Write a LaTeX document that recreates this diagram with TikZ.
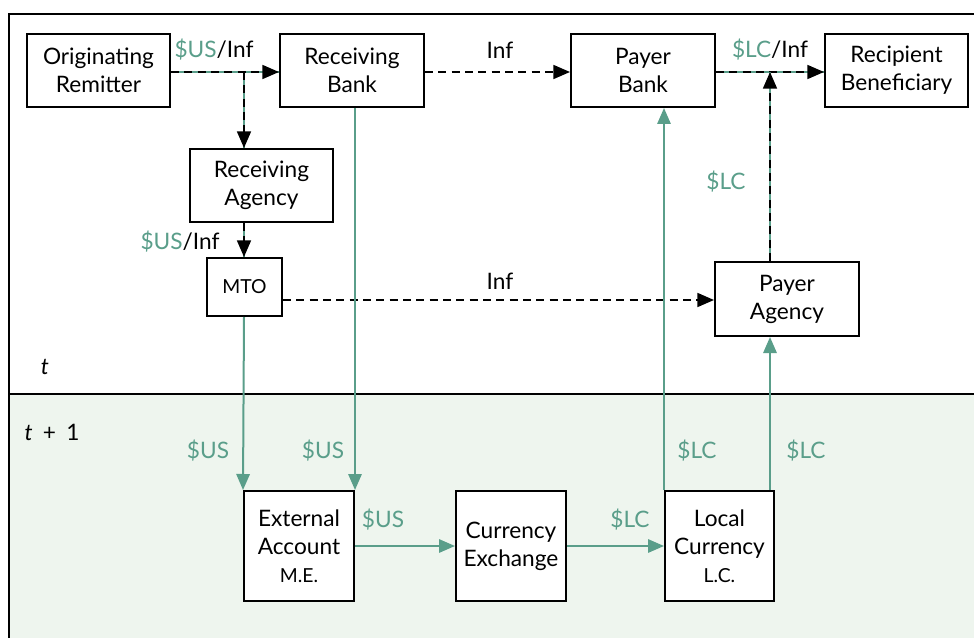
\documentclass[tikz,border=0pt]{standalone}
\usepackage{fontspec}
\setmainfont{Lato}
\usetikzlibrary{arrows.meta}
\definecolor{flow}{HTML}{5A9E8A}
\definecolor{bgnext}{HTML}{EEF5EE}
\begin{document}
\begin{tikzpicture}[x=0.75pt,y=-0.75pt,
  font=\fontsize{17}{21}\selectfont,
  box/.style={draw=black,line width=1.5pt,fill=white,align=center,inner sep=0pt},
  lbl/.style={inner sep=0pt,text=flow},
  tipb/.style={-{Triangle[length=12.5pt,width=10.5pt]}},
  tipg/.style={-{Triangle[length=12pt,width=10pt,color=flow]}},
  money/.style={draw=flow,line width=1.5pt},
  info/.style={draw=black,line width=1.3pt,dash pattern=on 6pt off 4pt},
]
\useasboundingbox (0,0) rectangle (974,638);
% background
\fill[bgnext] (9,394) rectangle (974,638);
\draw[line width=1.5pt] (974,14) -- (9,14) -- (9,638);
\draw[line width=1.5pt] (9,394) -- (974,394);
\node[anchor=center,font=\fontsize{17}{21}\selectfont\itshape] (tlab) at (45,367) {t};
\node[anchor=west] (tlab2) at (20,432) {\textit{t}\hspace{0.45em}+\hspace{0.45em}1};

% boxes
\node[box,minimum width=143*0.75pt,minimum height=73*0.75pt] (OR) at (98.5,70.5) {Originating\\Remitter};
\node[box,minimum width=144*0.75pt,minimum height=73*0.75pt] (RB) at (352,70.5) {Receiving\\Bank};
\node[box,minimum width=144*0.75pt,minimum height=73*0.75pt] (PB) at (643,70.5) {Payer\\Bank};
\node[box,minimum width=143*0.75pt,minimum height=73*0.75pt] (RBen) at (896.5,70.5) {Recipient\\Beneficiary};
\node[box,minimum width=143*0.75pt,minimum height=73*0.75pt] (RA) at (261.5,185.5) {Receiving\\Agency};
\node[box,minimum width=75*0.75pt,minimum height=58*0.75pt,font=\fontsize{14.5}{18}\selectfont] (MTO) at (244.5,287) {MTO};
\node[box,minimum width=144*0.75pt,minimum height=74*0.75pt] (PA) at (787,299) {Payer\\Agency};
\node[box,minimum width=110*0.75pt,minimum height=110*0.75pt] (EA) at (299,546) {External\\Account\\{\fontsize{14.5}{18}\selectfont M.E.}};
\node[box,minimum width=110*0.75pt,minimum height=110*0.75pt] (CE) at (511,546) {Currency\\Exchange};
\node[box,minimum width=109*0.75pt,minimum height=110*0.75pt] (LC) at (719.5,546) {Local\\Currency\\{\fontsize{14.5}{18}\selectfont L.C.}};

% helper coordinates
\coordinate (split) at (244,72);
\coordinate (join) at (770,72);

% OR -> RB (money + info)
\draw[money] (OR.east |- split) -- (RB.west |- split);
\draw[info,tipb] (OR.east |- split) -- (RB.west |- split);
% branch down to RA
\draw[money] (split) -- (split |- RA.north);
\draw[info,tipb] (split) -- (split |- RA.north);
% RA -> MTO
\draw[money] (split |- RA.south) -- (split |- MTO.north);
\draw[info,tipb] (split |- RA.south) -- (split |- MTO.north);
% RB -> PB info
\draw[info,tipb] (RB.east |- split) -- (PB.west |- split);
% PB -> RBen
\draw[money] (PB.east |- join) -- (RBen.west |- join);
\draw[info,tipb] (PB.east |- join) -- (RBen.west |- join);
% PA -> join
\draw[money] (join |- PA.north) -- (join);
\draw[info,tipb] (join |- PA.north) -- (join);
% MTO -> PA info
\draw[info,tipb] (MTO.east |- 0,300) -- (PA.west |- 0,300);

% money flows
\draw[money,tipg] (split |- MTO.south) -- (EA.north west);
\draw[money,tipg] (RB.south -| EA.north east) -- (EA.north east);
\draw[money,tipg] (EA.east) -- (CE.west);
\draw[money,tipg] (CE.east) -- (LC.west);
\draw[money,tipg] (LC.north west) -- (LC.north west |- PB.south);
\draw[money,tipg] (join |- LC.north) -- (join |- PA.south);

% labels
\node (l1) at (214,50) {\textcolor{flow}{\$US}/Inf};
\node (l2) at (500,50) {Inf};
\node (l3) at (770,50) {\textcolor{flow}{\$LC}/Inf};
\node (l4) at (180,242) {\textcolor{flow}{\$US}/Inf};
\node[lbl] (l5) at (726,182) {\$LC};
\node (l6) at (500,281) {Inf};
\node[lbl] (l7) at (208,451) {\$US};
\node[lbl] (l8) at (323,451) {\$US};
\node[lbl] (l9) at (697,451) {\$LC};
\node[lbl] (l10) at (806,451) {\$LC};
\node[lbl] (l11) at (383,520) {\$US};
\node[lbl] (l12) at (630,520) {\$LC};
\end{tikzpicture}
\end{document}
